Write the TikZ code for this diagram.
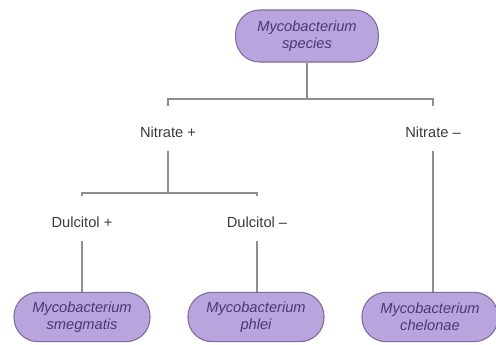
\documentclass[tikz,border=0pt]{standalone}
\usepackage{fontspec}
\setmainfont{Liberation Sans}
\definecolor{lilac}{HTML}{B8A5DE}
\definecolor{lilacedge}{HTML}{7E6C9E}
\definecolor{inkpurple}{HTML}{4A3A70}
\definecolor{linegray}{HTML}{8E8E8E}
\definecolor{labelgray}{HTML}{3A3A3A}

\begin{document}
\begin{tikzpicture}[x=0.75pt, y=-0.75pt,
	species/.style={draw=lilacedge, fill=lilac, line width=0.8pt, rounded corners=18pt,
		minimum width=102pt, minimum height=37pt, inner sep=2pt, align=center,
		text=inkpurple, font=\itshape\fontsize{11}{12.5}\selectfont},
	result/.style={inner xsep=2pt, inner ysep=10pt, text=labelgray,
		font=\fontsize{11}{13}\selectfont},
	link/.style={draw=linegray, line width=1.1pt},
	tick/.style={shorten >=5pt}]
	\useasboundingbox (0,0) rectangle (496,344);
	\node [species, minimum width=107pt, minimum height=39pt] (genus) at (307,36) {Mycobacterium\\species};
	\node [result] (nitpos) at (168,132) {Nitrate +};
	\node [result] (nitneg) at (433,132) {Nitrate --};
	\node [result] (dulpos) at (82,222) {Dulcitol +};
	\node [result] (dulneg) at (257,222) {Dulcitol --};
	\node [species] (smeg) at (82,317) {Mycobacterium\\smegmatis};
	\node [species] (phlei) at (256,317) {Mycobacterium\\phlei};
	\node [species] (chel) at (430,317) {Mycobacterium\\chelonae};
	\coordinate (nitsplit) at (307,99);
	\coordinate (dulsplit) at (168,193);
	\draw [link] (genus) -- (nitsplit);
	\draw [link, tick] (nitsplit) -| (nitpos);
	\draw [link, tick] (nitsplit) -| (nitneg);
	\draw [link] (nitpos) -- (dulsplit);
	\draw [link, tick] (dulsplit) -| (dulpos);
	\draw [link, tick] (dulsplit) -| (dulneg);
	\draw [link] (dulpos) -- (smeg);
	\draw [link] (dulneg) -- (dulneg |- phlei.north);
	\draw [link] (nitneg) -- (nitneg |- chel.north);
\end{tikzpicture}
\end{document}
